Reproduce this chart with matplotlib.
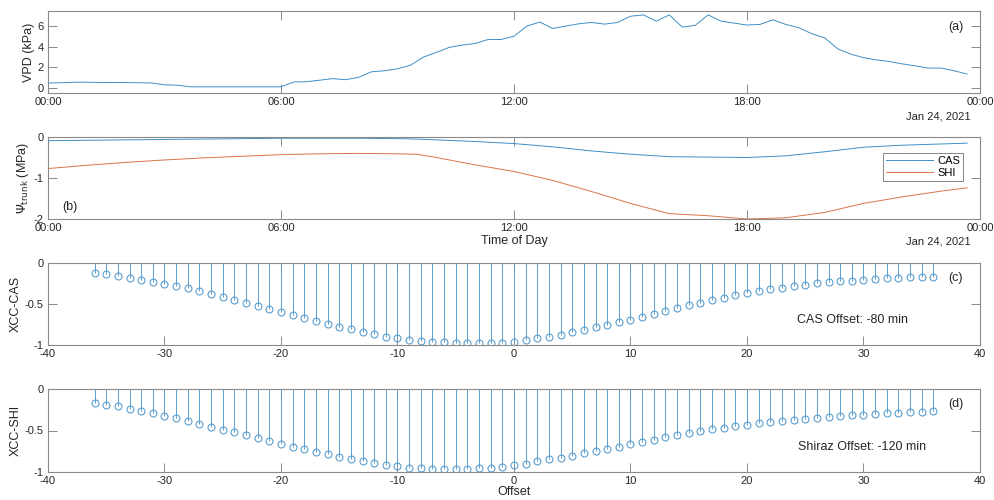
import numpy as np
import matplotlib
matplotlib.use("Agg")
import matplotlib.pyplot as plt
from matplotlib import rcParams

rcParams["font.family"] = ["Liberation Sans", "DejaVu Sans"]
rcParams["mathtext.fontset"] = "dejavusans"
rcParams["axes.unicode_minus"] = False

BLUE = "#3f8fc8"
ORANGE = "#dc7448"
STEM = "#5a9fd0"
FRAME = "#8a8a8a"
TXT = "#262626"

# ── (a) VPD, 20-min samples from 00:00 ─────────────────────────────────────
vpd_hours = [i / 3 for i in range(72)]
vpd_kpa = [0.48, 0.50, 0.55, 0.55, 0.53, 0.53, 0.52, 0.50, 0.48, 0.30, 0.26, 0.10,
           0.10, 0.10, 0.10, 0.10, 0.10, 0.10, 0.10, 0.58, 0.60, 0.75, 0.90, 0.80,
           1.03, 1.57, 1.67, 1.86, 2.20, 3.00, 3.46, 3.95, 4.17, 4.33, 4.72, 4.72,
           5.04, 6.03, 6.42, 5.80, 6.03, 6.25, 6.38, 6.22, 6.38, 6.99, 7.12, 6.51,
           7.12, 5.93, 6.10, 7.12, 6.51, 6.32, 6.13, 6.19, 6.64, 6.19, 5.87, 5.29,
           4.88, 3.82, 3.30, 2.95, 2.73, 2.57, 2.34, 2.15, 1.93, 1.93, 1.67, 1.35]

# ── (b) trunk water potential ──────────────────────────────────────────────
psi_hours = [0, 1, 2, 3, 4, 5, 6, 7, 8, 9, 9.5, 10, 11, 12, 13, 14, 15, 16, 17,
             18, 19, 20, 21, 22, 23, 23.67]
psi_cas = [-0.09, -0.08, -0.07, -0.06, -0.05, -0.04, -0.03, -0.03, -0.03, -0.04,
           -0.05, -0.07, -0.11, -0.16, -0.24, -0.34, -0.42, -0.48, -0.49, -0.50,
           -0.46, -0.36, -0.25, -0.20, -0.17, -0.15]
psi_shi = [-0.77, -0.69, -0.62, -0.56, -0.51, -0.47, -0.43, -0.41, -0.40, -0.41,
           -0.42, -0.50, -0.68, -0.84, -1.06, -1.33, -1.62, -1.87, -1.92, -2.00,
           -1.97, -1.84, -1.62, -1.46, -1.32, -1.24]

time_ticks = [0, 6, 12, 18, 24]
time_labels = ["00:00", "06:00", "12:00", "18:00", "00:00"]

# ── (c)/(d) cross-correlation vs lag ───────────────────────────────────────
lags = list(range(-36, 37))
xcc_cas = [-0.12, -0.14, -0.16, -0.18, -0.205, -0.23, -0.255, -0.285, -0.31, -0.345,
           -0.38, -0.415, -0.45, -0.49, -0.525, -0.56, -0.60, -0.64, -0.675, -0.71,
           -0.745, -0.78, -0.81, -0.845, -0.87, -0.90, -0.92, -0.94, -0.95, -0.96,
           -0.965, -0.975, -0.975, -0.975, -0.97, -0.97, -0.96,
           -0.94, -0.92, -0.898, -0.873, -0.845, -0.816, -0.784, -0.755, -0.722,
           -0.69, -0.657, -0.62, -0.588, -0.55, -0.518, -0.49, -0.453, -0.424,
           -0.396, -0.371, -0.347, -0.322, -0.302, -0.286, -0.265, -0.249, -0.237,
           -0.224, -0.216, -0.204, -0.196, -0.188, -0.18, -0.176, -0.171, -0.167]
xcc_shi = [-0.167, -0.188, -0.208, -0.237, -0.265, -0.294, -0.322, -0.355, -0.388,
           -0.42, -0.453, -0.49, -0.522, -0.56, -0.596, -0.63, -0.66, -0.694,
           -0.727, -0.76, -0.788, -0.816, -0.845, -0.87, -0.894, -0.914, -0.93,
           -0.947, -0.955, -0.96, -0.96, -0.96, -0.96, -0.955, -0.947, -0.935,
           -0.918, -0.898, -0.873, -0.849, -0.829, -0.804, -0.776, -0.747, -0.722,
           -0.694, -0.665, -0.637, -0.612, -0.584, -0.559, -0.535, -0.51, -0.486,
           -0.465, -0.449, -0.433, -0.412, -0.396, -0.384, -0.371, -0.359, -0.347,
           -0.335, -0.327, -0.318, -0.31, -0.302, -0.294, -0.29, -0.282, -0.273,
           -0.269]

LBL = 9  # 轴标题/注释字号


def _matlab_style(ax):
    for s in ax.spines.values():
        s.set_color(FRAME)
        s.set_linewidth(0.8)
    ax.tick_params(direction="in", length=6.5, width=0.7, color=FRAME,
                   labelsize=8, labelcolor=TXT, top=True, right=True, pad=3)


fig = plt.figure(figsize=(9.95, 5.0), dpi=100)
L, W, H = 0.0482, 0.9367, 0.164
ax_a = fig.add_axes([L, 0.814, W, H])
ax_b = fig.add_axes([L, 0.562, W, H])
ax_c = fig.add_axes([L, 0.310, W, H])
ax_d = fig.add_axes([L, 0.056, W, 0.166])

# (a)
ax_a.plot(vpd_hours, vpd_kpa, color=BLUE, lw=0.7)
ax_a.set_xlim(0, 24)
ax_a.set_ylim(-0.5, 7.5)
ax_a.set_yticks([0, 2, 4, 6])
ax_a.set_xticks(time_ticks)
ax_a.set_xticklabels(time_labels)
ax_a.set_ylabel("VPD (kPa)", fontsize=LBL, color=TXT, labelpad=2)
ax_a.text(0.982, 0.8, "(a)", transform=ax_a.transAxes, ha="right", va="center",
          fontsize=LBL, color=TXT)
ax_a.text(0.99, -0.29, "Jan 24, 2021", transform=ax_a.transAxes, ha="right",
          va="center", fontsize=8, color=TXT)
_matlab_style(ax_a)

# (b)
ax_b.plot(psi_hours, psi_cas, color=BLUE, lw=0.7, label="CAS")
ax_b.plot(psi_hours, psi_shi, color=ORANGE, lw=0.7, label="SHI")
ax_b.set_xlim(0, 24)
ax_b.set_ylim(-2, 0)
ax_b.set_yticks([-2, -1, 0])
ax_b.set_xticks(time_ticks)
ax_b.set_xticklabels(time_labels)
ax_b.set_ylabel(r"$\Psi_{\mathrm{trunk}}$ (MPa)", fontsize=LBL, color=TXT, labelpad=2)
ax_b.set_xlabel("Time of Day", fontsize=LBL, color=TXT, labelpad=1)
ax_b.text(0.015, 0.15, "(b)", transform=ax_b.transAxes, ha="left", va="center",
          fontsize=LBL, color=TXT)
ax_b.text(0.99, -0.28, "Jan 24, 2021", transform=ax_b.transAxes, ha="right",
          va="center", fontsize=8, color=TXT)
leg = ax_b.legend(loc="upper right", bbox_to_anchor=(0.982, 0.81), fontsize=8,
                  handlelength=4.2, frameon=True, fancybox=False, borderpad=0.3,
                  labelspacing=0.2, handletextpad=0.4, borderaxespad=0)
leg.get_frame().set_edgecolor("#666666")
leg.get_frame().set_linewidth(0.7)
_matlab_style(ax_b)


def _stem(ax, vals, label, note, tag, note_x):
    ml, sl, bl = ax.stem(lags, vals, basefmt=" ")
    plt.setp(sl, color=STEM, linewidth=0.7)
    plt.setp(ml, marker="o", markersize=5, markerfacecolor="none",
             markeredgecolor=STEM, markeredgewidth=0.8)
    ax.set_xlim(-40, 40)
    ax.set_ylim(-1, 0)
    ax.set_yticks([-1, -0.5, 0])
    ax.set_yticklabels(["-1", "-0.5", "0"])
    ax.set_xticks(range(-40, 41, 10))
    ax.set_ylabel(label, fontsize=LBL, color=TXT, labelpad=2)
    ax.text(0.982, 0.82, tag, transform=ax.transAxes, ha="right", va="center",
            fontsize=LBL, color=TXT)
    ax.text(note_x, 0.3, note, transform=ax.transAxes, ha="center", va="center",
            fontsize=LBL, color=TXT)
    _matlab_style(ax)


_stem(ax_c, xcc_cas, "XCC-CAS", "CAS Offset: -80 min", "(c)", 0.863)
_stem(ax_d, xcc_shi, "XCC-SHI", "Shiraz Offset: -120 min", "(d)", 0.874)
ax_d.set_xlabel("Offset", fontsize=LBL, color=TXT, labelpad=0)

fig.savefig("out.png", dpi=100)
